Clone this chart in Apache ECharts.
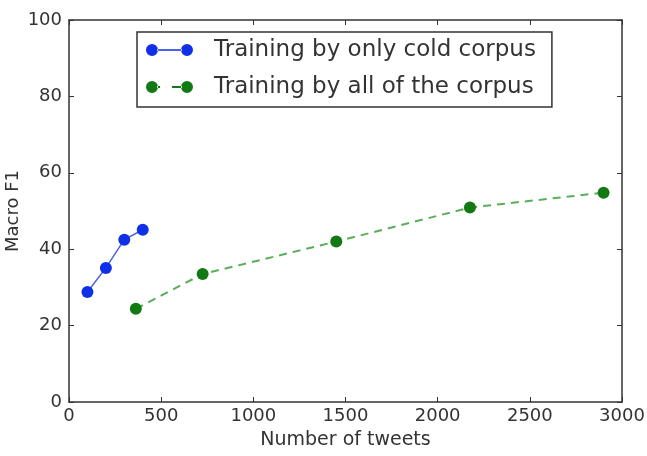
<!DOCTYPE html>
<html>
<head>
<meta charset="utf-8">
<script src="https://cdn.jsdelivr.net/npm/echarts@6/dist/echarts.min.js"></script>
<style>
html, body { margin: 0; padding: 0; background: #fff; }
#chart { width: 647px; height: 456px; }
</style>
</head>
<body>
<div id="chart"></div>
<script>
// data
var coldX = [100, 200, 300, 400];
var coldF1 = [28.8, 35.1, 42.5, 45.1];
var allX = [362.5, 725, 1450, 2175, 2900];
var allF1 = [24.4, 33.5, 42.0, 50.9, 54.8];
var xTicks = [0, 500, 1000, 1500, 2000, 2500, 3000];
var yTicks = [0, 20, 40, 60, 80, 100];

function pairs(xs, ys) {
  return xs.map(function (x, i) { return [x, ys[i]]; });
}

// legend icons like matplotlib: marker, line, marker
var solidIcon = 'path://M0,6a6,6 0 1,0 12,0a6,6 0 1,0 -12,0Z M11,5.2L36,5.2L36,6.8L11,6.8Z M35,6a6,6 0 1,0 12,0a6,6 0 1,0 -12,0Z';
var dashIcon = 'path://M0,6a6,6 0 1,0 12,0a6,6 0 1,0 -12,0Z M11,5L14,5L14,7L11,7Z M26,5L36,5L36,7L26,7Z M35,6a6,6 0 1,0 12,0a6,6 0 1,0 -12,0Z';

var chart = echarts.init(document.getElementById('chart'));
var font = 'DejaVu Sans';
function axisCommon() {
  return {
    type: 'value',
    axisLine: { show: true, onZero: false, lineStyle: { color: '#333', width: 1.5 } },
    axisTick: { show: true, inside: true, length: 5, lineStyle: { color: '#333' } },
    splitLine: { show: false }
  };
}

var option = {
  animation: false,
  textStyle: { fontFamily: font },
  grid: { left: 69, right: 25, top: 20, bottom: 54, containLabel: false, outerBoundsMode: 'none' },
  legend: {
    orient: 'vertical',
    left: 137,
    top: 32,
    padding: [6.5, 16, 8.5, 9],
    itemGap: 14,
    itemWidth: 47,
    itemHeight: 12,
    borderColor: '#333',
    borderWidth: 1.5,
    textStyle: { fontFamily: font, fontSize: 23, color: '#333', padding: [0, 0, 0, 16] },
    data: [
      { name: 'Training by only cold corpus', icon: solidIcon },
      { name: 'Training by all of the corpus', icon: dashIcon }
    ]
  },
  xAxis: [
    Object.assign(axisCommon(), {
      min: xTicks[0], max: xTicks[xTicks.length - 1], interval: 500,
      position: 'bottom',
      name: 'Number of tweets', nameLocation: 'middle', nameGap: 29,
      nameMoveOverlap: false,
      nameTextStyle: { fontFamily: font, fontSize: 19, color: '#333' },
      axisLabel: { fontFamily: font, fontSize: 18, color: '#333', margin: 5,
        formatter: function (v) { return String(v); } }
    }),
    Object.assign(axisCommon(), {
      min: xTicks[0], max: xTicks[xTicks.length - 1], interval: 500,
      position: 'top', axisLabel: { show: false }
    })
  ],
  yAxis: [
    Object.assign(axisCommon(), {
      min: yTicks[0], max: yTicks[yTicks.length - 1], interval: 20,
      position: 'left',
      name: 'Macro F1', nameLocation: 'middle', nameGap: 47,
      nameMoveOverlap: false,
      nameTextStyle: { fontFamily: font, fontSize: 18, color: '#333' },
      axisLabel: { fontFamily: font, fontSize: 18, color: '#333', margin: 7 }
    }),
    Object.assign(axisCommon(), {
      min: yTicks[0], max: yTicks[yTicks.length - 1], interval: 20,
      position: 'right', axisLabel: { show: false }
    })
  ],
  series: [
    {
      name: 'Training by only cold corpus',
      type: 'line',
      data: pairs(coldX, coldF1),
      symbol: 'circle',
      symbolSize: 12,
      itemStyle: { color: '#1030e8' },
      lineStyle: { color: '#4f62dc', width: 1.5 }
    },
    {
      name: 'Training by all of the corpus',
      type: 'line',
      data: pairs(allX, allF1),
      symbol: 'circle',
      symbolSize: 12,
      itemStyle: { color: '#137a13' },
      lineStyle: { color: '#5aae5a', width: 2, type: [8, 6] }
    }
  ]
};
chart.setOption(option);
</script>
</body>
</html>
